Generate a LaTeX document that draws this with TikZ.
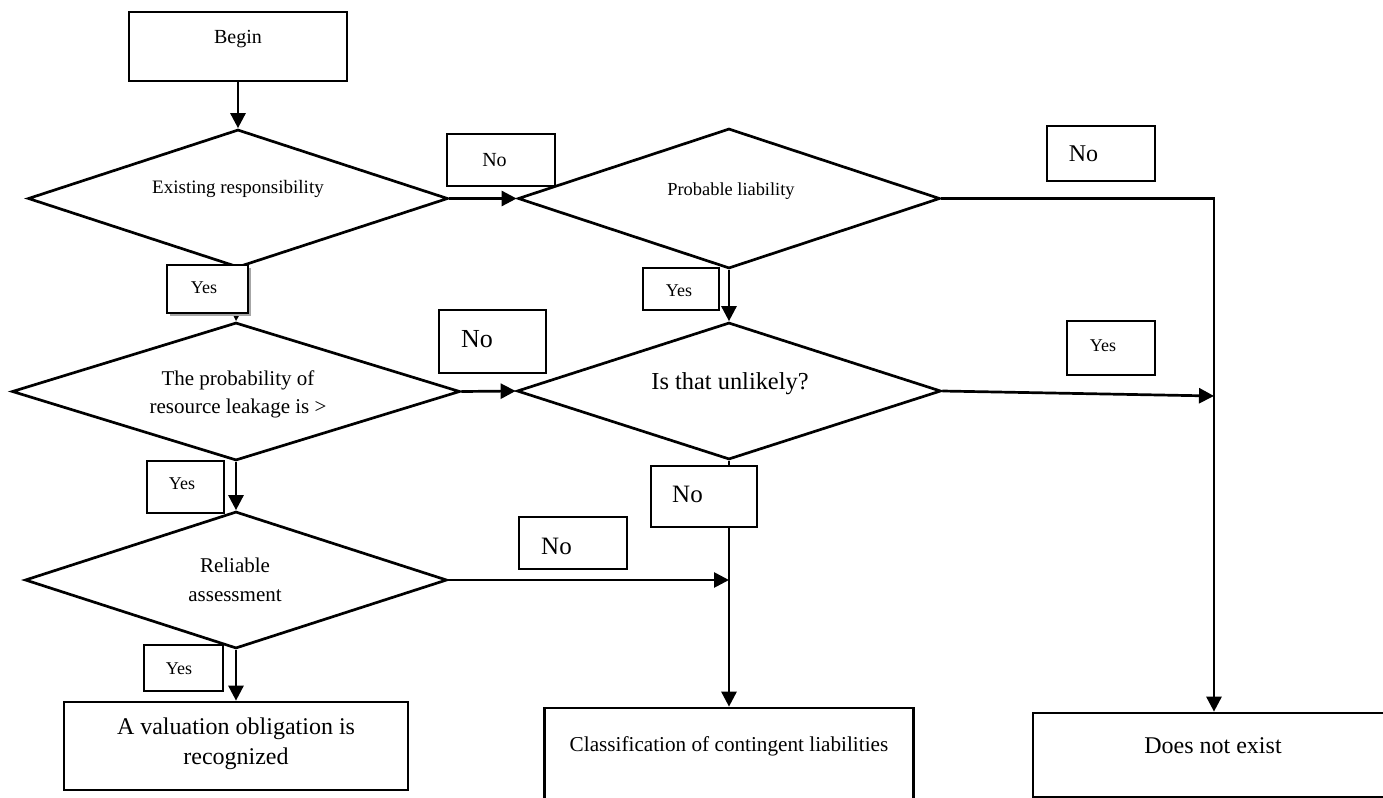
\documentclass[tikz,border=0pt]{standalone}
\usepackage{fontspec}
\setmainfont{Liberation Serif}
\usetikzlibrary{shapes.geometric,arrows.meta,shadows}
\newcommand{\fsz}[1]{\fontsize{#1}{1.25\dimexpr#1\relax}\selectfont}
\begin{document}
\begin{tikzpicture}[x=0.5pt,y=-0.5pt,line width=1.35pt,
  box/.style={draw,rectangle,inner sep=0pt,fill=white},
  decision/.style={draw,diamond,inner sep=0pt,fill=white},
  tag/.style={draw,rectangle,inner sep=0pt,fill=white},
  txt/.style={inner sep=0pt,align=center},
  flow/.style={-{Triangle[length=7.5pt,width=7.5pt]}},
  shadowed/.style={drop shadow={shadow xshift=1.5pt,shadow yshift=-1.5pt,fill=gray!70,opacity=1}}]
\useasboundingbox (0,0) rectangle (1383,798);

% main boxes and decisions
\node[box,minimum width=109pt,minimum height=34.5pt] (begin) at (238,46.5) {};
\node[decision,minimum width=210pt,minimum height=69pt] (exist) at (238,198.5) {};
\node[decision,minimum width=211pt,minimum height=70pt] (pl) at (729,198.5) {};
\node[decision,minimum width=224pt,minimum height=69pt] (leak) at (236,391.5) {};
\node[decision,minimum width=212pt,minimum height=68.5pt] (unl) at (729,391) {};
\node[decision,minimum width=211pt,minimum height=68.5pt] (rel) at (236,580) {};
\node[box,minimum width=172pt,minimum height=44pt] (val) at (236,746) {};
\node[box,minimum width=184.5pt,minimum height=61pt] (cls) at (729,769) {};
\node[box,minimum width=181pt,minimum height=42pt] (dne) at (1214,755) {};

% junction points on the collecting lines
\coordinate (cR) at (pl.east -| dne.north);
\coordinate (jY) at (1214,396);
\coordinate (jN) at (cls.north |- rel.east);

% connectors
\draw[flow] (begin.south) -- (exist.north);
\draw[flow] (exist.east) -- (pl.west);
\draw[flow] (exist.south) -- (leak.north);
\draw[flow] (pl.south) -- (unl.north);
\draw[flow] (pl.east) -- (cR) -- (dne.north);
\draw[flow] (unl.east) -- (jY);
\draw[flow] (leak.east) -- (unl.west);
\draw[flow] (leak.south) -- (rel.north);
\draw[flow] (unl.south) -- (cls.north);
\draw[flow] (rel.east) -- (jN);
\draw[flow] (rel.south) -- (val.north);

% answer tags
\node[tag,shadowed,minimum width=40.5pt,minimum height=24pt] (yes1) at (207.5,289) {};
\node[tag,minimum width=54pt,minimum height=26pt] (no1) at (501,160) {};
\node[tag,minimum width=38pt,minimum height=21pt] (yes2) at (681,289) {};
\node[tag,minimum width=54pt,minimum height=27.5pt] (no2) at (1101,153.5) {};
\node[tag,minimum width=53.5pt,minimum height=31.5pt] (no3) at (492.5,341.5) {};
\node[tag,minimum width=44pt,minimum height=27pt] (yes3) at (1111,348) {};
\node[tag,minimum width=38.5pt,minimum height=26pt] (yes4) at (185.5,487) {};
\node[tag,minimum width=53pt,minimum height=30.5pt] (no4) at (704,496.5) {};
\node[tag,minimum width=54pt,minimum height=26pt] (no5) at (573,543) {};
\node[tag,minimum width=39.5pt,minimum height=23pt] (yes5) at (183.5,668) {};

% texts
\node[txt,font=\fsz{10pt}] (tBegin) at (238,39) {Begin};
\node[txt,font=\fsz{9.5pt}] (tExist) at (238,189) {Existing responsibility};
\node[txt,font=\fsz{9.2pt}] (tPl) at (731,191) {Probable liability};
\node[txt,font=\fsz{10.5pt},text depth=0pt] (tLeak) at (238,392) {The probability of\\[0.5pt]resource leakage is >};
\node[txt,font=\fsz{12.2pt}] (tUnl) at (730,384) {Is that unlikely?};
\node[txt,font=\fsz{10.5pt},text depth=0pt] (tRel) at (235,580) {Reliable\\[1.5pt]assessment};
\node[txt,font=\fsz{12pt},text depth=0pt] (tVal) at (236,741) {A valuation obligation is\\recognized};
\node[txt,font=\fsz{10.6pt}] (tCls) at (729,746) {Classification of contingent liabilities};
\node[txt,font=\fsz{12pt}] (tDne) at (1213,746) {Does not exist};

\node[txt,font=\fsz{9pt}] at (204,288) {Yes};
\node[txt,font=\fsz{10pt}] at (494.5,160) {No};
\node[txt,font=\fsz{9pt}] at (679,291) {Yes};
\node[txt,font=\fsz{12pt}] at (1083.5,154) {No};
\node[txt,font=\fsz{13pt}] at (477,339) {No};
\node[txt,font=\fsz{9pt}] at (1103,346) {Yes};
\node[txt,font=\fsz{9pt}] at (182,484) {Yes};
\node[txt,font=\fsz{12.5pt}] at (687.5,494) {No};
\node[txt,font=\fsz{12.5pt}] at (556.5,546) {No};
\node[txt,font=\fsz{9pt}] at (179,669) {Yes};
\end{tikzpicture}
\end{document}
